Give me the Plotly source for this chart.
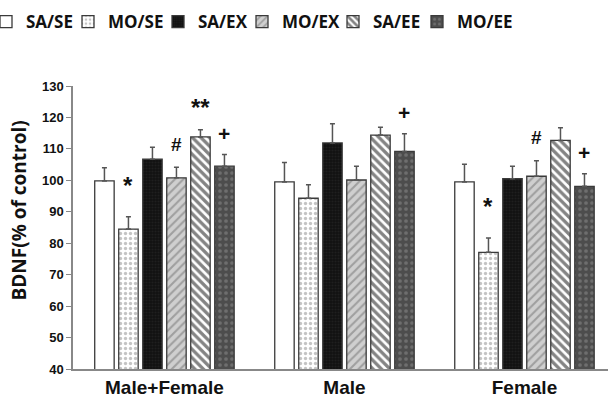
import plotly.graph_objects as go

# BDNF levels (% of control) per group and condition
groups = ["Male+Female", "Male", "Female"]
conditions = ["SA/SE", "MO/SE", "SA/EX", "MO/EX", "SA/EE", "MO/EE"]

bdnf_mean = {
    "SA/SE": [99.8, 99.5, 99.5],
    "MO/SE": [84.5, 94.3, 77.1],
    "SA/EX": [106.7, 111.9, 100.5],
    "MO/EX": [100.8, 100.1, 101.3],
    "SA/EE": [113.8, 114.4, 112.7],
    "MO/EE": [104.5, 109.2, 98.1],
}
bdnf_sem = {
    "SA/SE": [4.2, 6.2, 5.6],
    "MO/SE": [3.9, 4.3, 4.6],
    "SA/EX": [3.8, 6.1, 4.0],
    "MO/EX": [3.4, 4.4, 4.9],
    "SA/EE": [2.3, 2.5, 4.0],
    "MO/EE": [3.7, 5.6, 4.0],
}
# significance marks: (condition, group, label)
sig_marks = [
    ("MO/SE", "Male+Female", "*"),
    ("MO/EX", "Male+Female", "#"),
    ("SA/EE", "Male+Female", "**"),
    ("MO/EE", "Male+Female", "+"),
    ("MO/EE", "Male", "+"),
    ("MO/SE", "Female", "*"),
    ("MO/EX", "Female", "#"),
    ("MO/EE", "Female", "+"),
]

# fill styles per condition
styles = {
    "SA/SE": dict(color="white", pattern=dict(shape="")),
    "MO/SE": dict(color="white", pattern=dict(shape=".", fgcolor="#8a8a8a", bgcolor="white", size=5, solidity=0.35, fillmode="overlay")),
    "SA/EX": dict(color="#111111", pattern=dict(shape=".", fgcolor="#2e2e2e", bgcolor="#111111", size=3, solidity=0.4, fillmode="overlay")),
    "MO/EX": dict(color="#cfcfcf", pattern=dict(shape="/", fgcolor="#6f6f6f", bgcolor="#cfcfcf", size=6, solidity=0.35, fillmode="overlay")),
    "SA/EE": dict(color="white", pattern=dict(shape="\\", fgcolor="#0a0a0a", bgcolor="white", size=6, solidity=0.55, fillmode="overlay")),
    "MO/EE": dict(color="#4d4d4d", pattern=dict(shape=".", fgcolor="#8f8f8f", bgcolor="#4d4d4d", size=6, solidity=0.3, fillmode="overlay")),
}

# left edge (px) of each legend entry along the top row
legend_left_px = [-14, 68, 158, 242, 333, 417]
plot_left, plot_width = 73, 535

fig = go.Figure()
legend_layout = {}
for k, cond in enumerate(conditions):
    st = styles[cond]
    lname = "legend" if k == 0 else f"legend{k + 1}"
    fig.add_trace(go.Bar(
        name=cond,
        x=groups,
        y=bdnf_mean[cond],
        legend=lname,
        marker=dict(color=st["color"], pattern=st["pattern"],
                    line=dict(color="#3a3a3a", width=1.3)),
        error_y=dict(type="data", symmetric=False, array=bdnf_sem[cond],
                     arrayminus=[0] * len(groups), color="#555555",
                     thickness=1.5, width=2.5),
    ))
    legend_layout[lname] = dict(
        orientation="h", x=(legend_left_px[k] - plot_left) / plot_width, xanchor="left",
        y=1.226, yanchor="middle",
        font=dict(family="Open Sans", size=17, color="#111111", weight="bold"),
        bgcolor="rgba(0,0,0,0)", itemwidth=30,
    )

# significance labels above the error bars
bar_step = 24  # px between neighbouring bars inside a group
sig_shift = {"*": 31, "**": 22, "#": 23, "+": 21}
sig_size = {"*": 24, "**": 24, "#": 19, "+": 21}
for cond, grp, label in sig_marks:
    i = conditions.index(cond)
    g = groups.index(grp)
    top = bdnf_mean[cond][g] + bdnf_sem[cond][g]
    fig.add_annotation(
        x=grp, y=top, xref="x", yref="y",
        xshift=(i - (len(conditions) - 1) / 2) * bar_step,
        yshift=sig_shift[label],
        text=label, showarrow=False, yanchor="middle",
        font=dict(family="Liberation Sans, Arial", size=sig_size[label], color="#111111", weight="bold"),
    )

fig.add_annotation(
    text="BDNF(% of control)", textangle=-90,
    xref="paper", yref="paper", x=-0.101, y=0.56,
    showarrow=False, xanchor="center", yanchor="middle",
    font=dict(family="Open Sans", size=19, color="#111111", weight="bold"),
)

fig.update_layout(
    width=608, height=397,
    margin=dict(l=73, r=0, t=86, b=28, autoexpand=False),
    paper_bgcolor="white", plot_bgcolor="white",
    barmode="group", bargap=0.2, bargroupgap=0.19,
    showlegend=True,
    xaxis=dict(range=[-0.508, 2.464], showline=True, linecolor="#888888", linewidth=1.5,
               ticks="", showgrid=False, zeroline=False,
               tickfont=dict(family="Liberation Sans, Arial", size=19, color="#111111", weight="bold")),
    yaxis=dict(range=[40, 130], dtick=10, showline=True, linecolor="#888888", linewidth=1.5,
               ticks="outside", ticklen=5, tickcolor="#888888", showgrid=False, zeroline=False,
               tickfont=dict(family="Liberation Sans, Arial", size=13, color="#111111", weight="bold")),
    **legend_layout,
)

fig.write_html("out.html")
